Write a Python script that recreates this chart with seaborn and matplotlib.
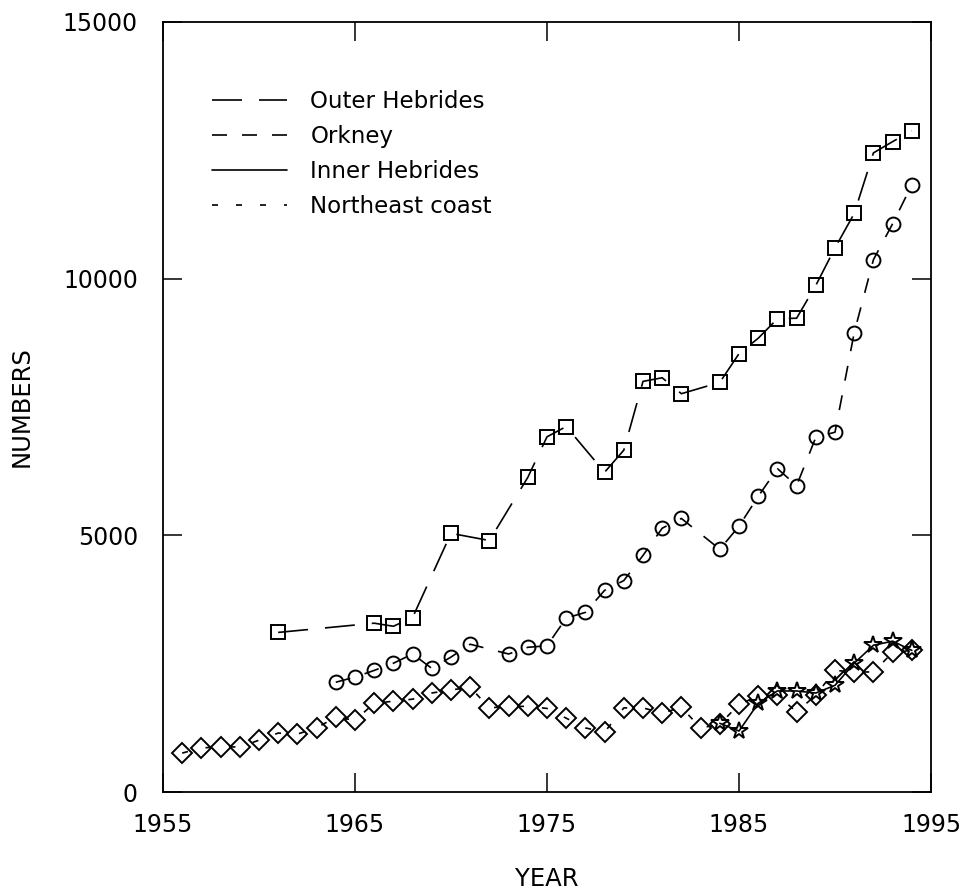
import matplotlib
matplotlib.use("Agg")
import matplotlib.pyplot as plt
from matplotlib.lines import Line2D
import seaborn as sns

# Data
outer_years = [1961, 1966, 1967, 1968, 1970, 1972, 1974, 1975, 1976, 1978, 1979,
               1980, 1981, 1982, 1984, 1985, 1986, 1987, 1988, 1989, 1990, 1991,
               1992, 1993, 1994]
outer_vals = [3110, 3290, 3230, 3400, 5040, 4900, 6130, 6920, 7120, 6230, 6660,
              8000, 8070, 7760, 7980, 8540, 8840, 9220, 9230, 9870, 10600, 11270,
              12450, 12670, 12880]

orkney_years = [1964, 1965, 1966, 1967, 1968, 1969, 1970, 1971, 1973, 1974, 1975,
                1976, 1977, 1978, 1979, 1980, 1981, 1982, 1984, 1985, 1986, 1987,
                1988, 1989, 1990, 1991, 1992, 1993, 1994]
orkney_vals = [2140, 2240, 2370, 2510, 2690, 2410, 2630, 2880, 2690, 2820, 2850,
               3390, 3500, 3930, 4120, 4610, 5140, 5330, 4730, 5180, 5760, 6300,
               5970, 6910, 7010, 8950, 10370, 11070, 11830]

inner_years = [1984, 1985, 1986, 1987, 1988, 1989, 1990, 1991, 1992, 1993, 1994]
inner_vals = [1340, 1190, 1730, 1970, 1970, 1930, 2080, 2510, 2860, 2940, 2760]

ne_years = list(range(1956, 1995))
ne_vals = [760, 860, 880, 880, 1010, 1150, 1130, 1250, 1460, 1400, 1730, 1770,
           1810, 1930, 1990, 2040, 1640, 1670, 1670, 1630, 1440, 1250, 1170, 1640,
           1640, 1540, 1650, 1250, 1320, 1710, 1870, 1890, 1560, 1890, 2370, 2340,
           2340, 2720, 2760]

# name, years, values, marker, dash style
series = [
    ("Outer Hebrides", outer_years, outer_vals, "s", (0, (18, 10.2))),
    ("Orkney", orkney_years, orkney_vals, "o", (0, (9, 9))),
    ("Inner Hebrides", inner_years, inner_vals, "*", "-"),
    ("Northeast coast", ne_years, ne_vals, "D", (0, (3.6, 10.8))),
]
msizes = {"s": 9.5, "o": 10, "*": 13, "D": 10}

sns.set_style("ticks")
plt.rcParams["font.family"] = ["DejaVu Sans"]
plt.rcParams["text.color"] = "black"
plt.rcParams["axes.labelcolor"] = "black"

fig = plt.figure(figsize=(9.66, 8.9), dpi=100)
ax = fig.add_axes([0.1687, 0.110, 0.7951, 0.8653])

handles = []
for name, yrs, vals, mk, ls in series:
    sns.lineplot(x=yrs, y=vals, ax=ax, color="black", linewidth=1.2,
                 linestyle=ls, marker=mk, markersize=msizes[mk],
                 markerfacecolor="none", markeredgecolor="black",
                 markeredgewidth=1.4, sort=False, estimator=None)
    handles.append(Line2D([], [], color="black", linewidth=1.2, linestyle=ls,
                          label=name))

ax.set_xlim(1955, 1995)
ax.set_ylim(0, 15000)
ax.set_xticks([1955, 1965, 1975, 1985, 1995])
ax.set_yticks([0, 5000, 10000, 15000])
ax.tick_params(direction="in", top=True, right=True, length=14, width=1.1,
               labelsize=17, colors="black")
ax.tick_params(axis="x", pad=15)
ax.tick_params(axis="y", pad=18)
for sp in ax.spines.values():
    sp.set_linewidth(1.3)
    sp.set_color("black")

ax.set_xlabel("YEAR", fontsize=17.5, labelpad=22)
ax.set_ylabel("NUMBERS", fontsize=17.5, labelpad=21)

# legend shows line styles only
ax.legend(handles=handles, loc="upper left", bbox_to_anchor=(0.0368, 0.938),
          frameon=False, fontsize=16.5, handlelength=3.3, handletextpad=1.0,
          labelspacing=0.52)

fig.savefig("out.png", dpi=100, facecolor="white")
